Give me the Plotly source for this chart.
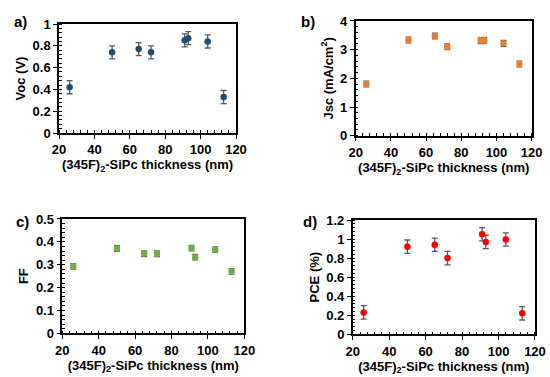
import plotly.graph_objects as go

thickness = [26, 50, 65, 72, 91, 93, 104, 113]
voc = [0.42, 0.74, 0.77, 0.74, 0.85, 0.87, 0.84, 0.33]
voc_err = [0.06, 0.06, 0.06, 0.06, 0.06, 0.06, 0.06, 0.06]
jsc = [1.8, 3.34, 3.48, 3.1, 3.31, 3.33, 3.22, 2.5]
jsc_err = [0.1, 0.1, 0.1, 0.1, 0.1, 0.1, 0.1, 0.1]
ff = [0.293, 0.371, 0.348, 0.348, 0.373, 0.333, 0.366, 0.271]
ff_err = [0.012, 0.012, 0.012, 0.012, 0.012, 0.012, 0.012, 0.012]
pce = [0.23, 0.92, 0.94, 0.80, 1.05, 0.97, 0.995, 0.22]
pce_err = [0.07, 0.07, 0.07, 0.07, 0.07, 0.07, 0.07, 0.07]

x_title = "(345F)<sub>2</sub>-SiPc thickness (nm)"

panels = [
    dict(y=voc, e=voc_err, color="#1F4E79", ytitle="Voc (V)", yr=[0, 1], dt=0.2, mdt=0.04,
         label="a)", xd=[0.1073, 0.4291], yd=[0.6472, 0.9363], lx=0.052, ly=0.972),
    dict(y=jsc, e=jsc_err, color="#ED7D31", ytitle="Jsc (mA/cm<sup>2</sup>)", yr=[0, 4], dt=1, mdt=0.2,
         label="b)", xd=[0.6467, 0.9667], yd=[0.6401, 0.9443], lx=0.577, ly=0.972),
    dict(y=ff, e=ff_err, color="#70AD47", ytitle="FF", yr=[0, 0.5], dt=0.1, mdt=0.02,
         label="c)", xd=[0.1133, 0.4442], yd=[0.1159, 0.4191], lx=0.056, ly=0.44),
    dict(y=pce, e=pce_err, color="#FF0000", ytitle="PCE (%)", yr=[0, 1.2], dt=0.2, mdt=0.04,
         label="d)", xd=[0.6413, 0.9727], yd=[0.1133, 0.4164], lx=0.58, ly=0.44),
]

fig = go.Figure()
font_family = "Liberation Sans, Arial, sans-serif"
annotations = []
for i, p in enumerate(panels, start=1):
    xa = "x" if i == 1 else f"x{i}"
    ya = "y" if i == 1 else f"y{i}"
    fig.add_trace(go.Scatter(
        x=thickness, y=p["y"], mode="markers", xaxis=xa, yaxis=ya,
        marker=dict(color=p["color"], size=6.5),
        error_y=dict(type="data", array=p["e"], color="#5a5a5a", thickness=1.3, width=3),
        showlegend=False))
    axis_common = dict(showline=True, linecolor="black", linewidth=1.5, mirror=True,
                       showgrid=False, zeroline=False, ticks="outside", ticklen=4,
                       tickcolor="black", tickwidth=1.2, automargin=False,
                       tickfont=dict(family=font_family, size=13, color="black", weight="bold"))
    fig.layout[("xaxis" if i == 1 else f"xaxis{i}")] = dict(
        domain=p["xd"], anchor=ya, range=[20, 120], tick0=20, dtick=20,
        minor=dict(ticks="inside", ticklen=3, dtick=4, tickcolor="black", tickwidth=1),
        title=dict(text=x_title, standoff=2,
                   font=dict(family=font_family, size=13, color="black", weight="bold")),
        **axis_common)
    fig.layout[("yaxis" if i == 1 else f"yaxis{i}")] = dict(
        domain=p["yd"], anchor=xa, range=p["yr"], tick0=0, dtick=p["dt"],
        minor=dict(ticks="inside", ticklen=3, dtick=p["mdt"], tickcolor="black", tickwidth=1),
        title=dict(text=p["ytitle"], standoff=4,
                   font=dict(family=font_family, size=13, color="black", weight="bold")),
        **axis_common)
    annotations.append(dict(text=p["label"], xref="paper", yref="paper", x=p["lx"], y=p["ly"],
                            xanchor="right", yanchor="top", showarrow=False,
                            font=dict(family=font_family, size=15, color="black", weight="bold")))

fig.update_layout(width=550, height=377, margin=dict(l=0, r=0, t=0, b=0),
                  paper_bgcolor="white", plot_bgcolor="white", annotations=annotations,
                  font=dict(family=font_family))
fig.write_html("out.html", config={"displayModeBar": False},
               post_script="document.body.style.margin='0';document.body.style.padding='0';document.body.style.overflow='hidden';")
